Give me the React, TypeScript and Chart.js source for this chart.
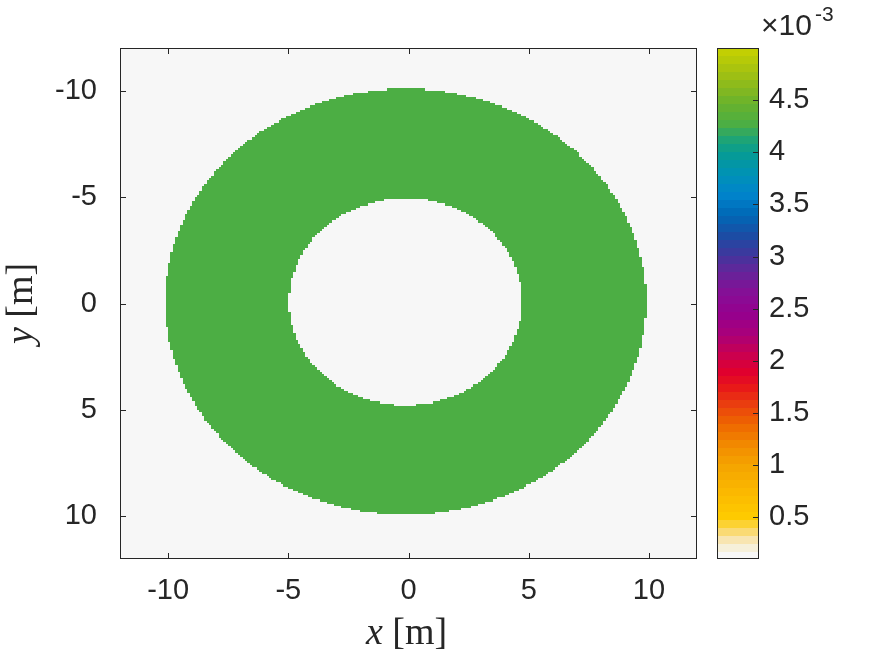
import React, { useEffect, useRef } from "react";
import { Chart, registerables } from "chart.js";

Chart.register(...registerables);

// ---- data ----
const xTicks = [-10, -5, 0, 5, 10];
const yTicks = [-10, -5, 0, 5, 10];
const cbTicks = [0.5, 1, 1.5, 2, 2.5, 3, 3.5, 4, 4.5];
const axisMin = -12;
const axisMax = 12;
const gridStep = 0.1; // cell size [m]
const ringCenterX = -0.12; // [m]
const ringCenterY = -0.08; // [m]
const ringInner = 4.85; // [m]
const ringOuter = 10; // [m]
const ringValue = 4.3; // x 1e-3
const backgroundValue = 0.1; // x 1e-3
const colorMin = 0.1;
const colorMax = 5.0;
const colorLevels = 64;
const colorExponentLabel = "-3";

// colormap stops (value in 1e-3 units, colour)
const colorStops: [number, string][] = [
  [0.1, "#f7f7f7"],
  [0.15, "#f7f7f7"],
  [0.22, "#f6efd8"],
  [0.3, "#f8e4ac"],
  [0.4, "#fbd65a"],
  [0.5, "#fecc00"],
  [0.75, "#fbb800"],
  [1.0, "#f5a400"],
  [1.2, "#f28a00"],
  [1.4, "#ee6600"],
  [1.6, "#ea3c10"],
  [1.75, "#e81818"],
  [1.9, "#e0002e"],
  [2.05, "#cc004c"],
  [2.25, "#aa0078"],
  [2.45, "#96008e"],
  [2.65, "#860e96"],
  [2.85, "#66249a"],
  [3.0, "#44349c"],
  [3.2, "#1c4ca4"],
  [3.4, "#0068b6"],
  [3.6, "#0084cc"],
  [3.8, "#0092b4"],
  [4.0, "#069c92"],
  [4.12, "#1ea476"],
  [4.27, "#4cae44"],
  [4.45, "#66b22e"],
  [4.6, "#84b820"],
  [4.78, "#a6c210"],
  [5.0, "#c8d200"],
];

// ---- helpers ----
function hexToRgb(h: string): [number, number, number] {
  const n = parseInt(h.slice(1), 16);
  return [(n >> 16) & 255, (n >> 8) & 255, n & 255];
}

function interpColor(v: number): [number, number, number] {
  if (v <= colorStops[0][0]) return hexToRgb(colorStops[0][1]);
  for (let i = 1; i < colorStops.length; i++) {
    const [v1, c1] = colorStops[i];
    const [v0, c0] = colorStops[i - 1];
    if (v <= v1) {
      const t = (v - v0) / (v1 - v0);
      const a = hexToRgb(c0);
      const b = hexToRgb(c1);
      return [0, 1, 2].map((k) => Math.round(a[k] + (b[k] - a[k]) * t)) as [number, number, number];
    }
  }
  return hexToRgb(colorStops[colorStops.length - 1][1]);
}

function bandIndex(v: number): number {
  const t = (v - colorMin) / (colorMax - colorMin);
  return Math.max(0, Math.min(colorLevels - 1, Math.floor(t * colorLevels)));
}

function bandColor(idx: number): [number, number, number] {
  const v = colorMin + ((idx + 0.5) / colorLevels) * (colorMax - colorMin);
  return interpColor(v);
}

function buildField(): number[][] {
  const n = Math.round((axisMax - axisMin) / gridStep);
  const rows: number[][] = [];
  for (let j = 0; j < n; j++) {
    const yc = axisMin + (j + 0.5) * gridStep;
    const row: number[] = [];
    for (let i = 0; i < n; i++) {
      const xc = axisMin + (i + 0.5) * gridStep;
      const r = Math.hypot(xc - ringCenterX, yc - ringCenterY);
      row.push(r >= ringInner && r <= ringOuter ? ringValue : backgroundValue);
    }
    rows.push(row);
  }
  return rows;
}

const AXIS_COLOR = "#262626";
const TICK_FONT = "Liberation Sans, Arial, Helvetica, sans-serif";
const SERIF = "Liberation Serif, Times New Roman, serif";

const heatmapPlugin = {
  id: "heatmap",
  beforeDatasetsDraw(chart: any) {
    const { ctx, scales } = chart;
    const xs = scales.x;
    const ys = scales.y;
    const field = buildField();
    const n = field.length;
    const off = document.createElement("canvas");
    off.width = n;
    off.height = n;
    const octx = off.getContext("2d")!;
    const img = octx.createImageData(n, n);
    for (let j = 0; j < n; j++) {
      for (let i = 0; i < n; i++) {
        const c = bandColor(bandIndex(field[j][i]));
        const p = (j * n + i) * 4;
        img.data[p] = c[0];
        img.data[p + 1] = c[1];
        img.data[p + 2] = c[2];
        img.data[p + 3] = 255;
      }
    }
    octx.putImageData(img, 0, 0);
    const left = xs.getPixelForValue(axisMin);
    const right = xs.getPixelForValue(axisMax);
    const top = ys.getPixelForValue(axisMin);
    const bottom = ys.getPixelForValue(axisMax);
    ctx.save();
    ctx.imageSmoothingEnabled = false;
    ctx.drawImage(off, left, top, right - left, bottom - top);
    ctx.restore();
  },
  afterDraw(chart: any) {
    const { ctx, chartArea, scales } = chart;
    const xs = scales.x;
    const ys = scales.y;
    const cb = scales.cb;
    const { left, right, top, bottom } = chartArea;
    const tl = 6;
    ctx.save();
    ctx.strokeStyle = AXIS_COLOR;
    ctx.lineWidth = 1;
    // box
    ctx.strokeRect(left + 0.5, top + 0.5, right - left - 1, bottom - top - 1);
    // ticks
    ctx.beginPath();
    xTicks.forEach((v) => {
      const px = Math.round(xs.getPixelForValue(v)) + 0.5;
      ctx.moveTo(px, bottom);
      ctx.lineTo(px, bottom - tl);
      ctx.moveTo(px, top);
      ctx.lineTo(px, top + tl);
    });
    yTicks.forEach((v) => {
      const py = Math.round(ys.getPixelForValue(v)) + 0.5;
      ctx.moveTo(left, py);
      ctx.lineTo(left + tl, py);
      ctx.moveTo(right, py);
      ctx.lineTo(right - tl, py);
    });
    ctx.stroke();

    // colorbar
    const cbLeft = right + 20;
    const cbRight = right + 62;
    for (let k = 0; k < colorLevels; k++) {
      const v0 = colorMin + (k / colorLevels) * (colorMax - colorMin);
      const v1 = colorMin + ((k + 1) / colorLevels) * (colorMax - colorMin);
      const y0 = cb.getPixelForValue(v0);
      const y1 = cb.getPixelForValue(v1);
      const c = bandColor(k);
      ctx.fillStyle = `rgb(${c[0]},${c[1]},${c[2]})`;
      ctx.fillRect(cbLeft, Math.floor(y1), cbRight - cbLeft, Math.ceil(y0) - Math.floor(y1));
    }
    ctx.strokeRect(cbLeft + 0.5, top + 0.5, cbRight - cbLeft - 1, bottom - top - 1);
    ctx.beginPath();
    cbTicks.forEach((v) => {
      const py = Math.round(cb.getPixelForValue(v)) + 0.5;
      ctx.moveTo(cbRight, py);
      ctx.lineTo(cbRight - tl, py);
    });
    ctx.stroke();

    // exponent label
    ctx.fillStyle = AXIS_COLOR;
    ctx.textBaseline = "alphabetic";
    ctx.textAlign = "left";
    ctx.font = `30px ${TICK_FONT}`;
    const base = "\u00d710";
    ctx.fillText(base, cbRight + 2, 35);
    const bw = ctx.measureText(base).width;
    ctx.font = `21px ${TICK_FONT}`;
    ctx.fillText(colorExponentLabel, cbRight + 2 + bw + 3, 21);

    // axis labels (italic variable + upright unit)
    const drawLabel = (cx: number, cy: number, rot: number, v: string, unit: string) => {
      ctx.save();
      ctx.translate(cx, cy);
      ctx.rotate(rot);
      ctx.font = `italic 38px ${SERIF}`;
      const w1 = ctx.measureText(v).width;
      ctx.font = `38px ${SERIF}`;
      const w2 = ctx.measureText(unit).width;
      const start = -(w1 + w2) / 2;
      ctx.font = `italic 38px ${SERIF}`;
      ctx.fillText(v, start, 0);
      ctx.font = `38px ${SERIF}`;
      ctx.fillText(unit, start + w1, 0);
      ctx.restore();
    };
    drawLabel((left + right) / 2 - 2, 644, 0, "x", " [m]");
    drawLabel(32, (top + bottom) / 2, -Math.PI / 2, "y", " [m]");
    ctx.restore();
  },
};

const fmt = (v: number) => String(v);

export default function App() {
  const ref = useRef<HTMLCanvasElement | null>(null);
  useEffect(() => {
    if (!ref.current) return;
    const tickFont = { family: TICK_FONT, size: 29 };
    const chart = new Chart(ref.current, {
      type: "scatter",
      data: { datasets: [{ data: [] }] },
      options: {
        animation: false,
        responsive: false,
        maintainAspectRatio: false,
        layout: { padding: { top: 48, left: 0, right: 0, bottom: 0 } },
        plugins: { legend: { display: false }, tooltip: { enabled: false } },
        scales: {
          x: {
            type: "linear",
            position: "bottom",
            min: axisMin,
            max: axisMax,
            grid: { display: false, drawTicks: true, tickLength: 8 },
            border: { display: false },
            ticks: { font: tickFont, color: AXIS_COLOR, padding: 7, maxRotation: 0, callback: fmt },
            afterBuildTicks: (s: any) => {
              s.ticks = xTicks.map((v) => ({ value: v }));
            },
            afterFit: (s: any) => {
              s.height = 98;
            },
          },
          y: {
            type: "linear",
            position: "left",
            reverse: true,
            min: axisMin,
            max: axisMax,
            grid: { display: false, drawTicks: true, tickLength: 15 },
            border: { display: false },
            ticks: { font: tickFont, color: AXIS_COLOR, padding: 8, callback: fmt },
            afterBuildTicks: (s: any) => {
              s.ticks = yTicks.map((v) => ({ value: v }));
            },
            afterFit: (s: any) => {
              s.width = 120;
            },
          },
          cb: {
            type: "linear",
            position: "right",
            min: colorMin,
            max: colorMax,
            grid: { display: false, drawTicks: true, tickLength: 64 },
            border: { display: false },
            ticks: { font: tickFont, color: AXIS_COLOR, padding: 8, callback: fmt },
            afterBuildTicks: (s: any) => {
              s.ticks = cbTicks.map((v) => ({ value: v }));
            },
            afterFit: (s: any) => {
              s.width = 178;
            },
          },
        },
      } as any,
      plugins: [heatmapPlugin],
    });
    return () => chart.destroy();
  }, []);
  return (
    <div style={{ position: "absolute", left: 0, top: 0, width: 875, height: 657, background: "#fff" }}>
      <canvas ref={ref} width={875} height={657} />
    </div>
  );
}
